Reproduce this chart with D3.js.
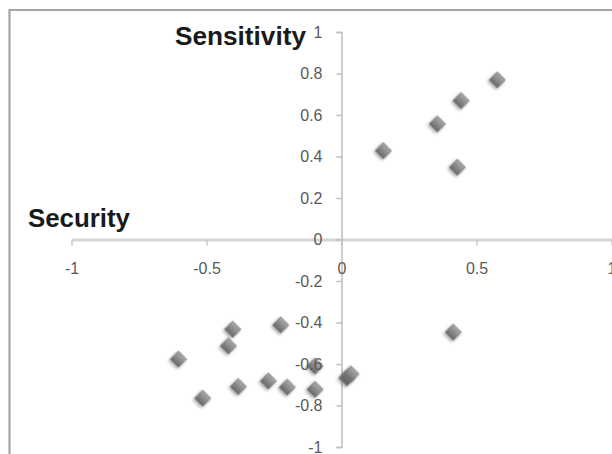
<!DOCTYPE html>
<html>
<head>
<meta charset="utf-8">
<script src="https://cdn.jsdelivr.net/npm/d3@7"></script>
<style>
  html, body { margin: 0; padding: 0; background: #fff; }
  svg { display: block; }
</style>
</head>
<body>
<svg id="chart" width="612" height="454"></svg>
<script>
// ---- data ----
const securityValues    = [0.577, 0.443, 0.355, 0.155, 0.429, 0.414, -0.225, -0.403, -0.419, -0.604, -0.514, -0.382, -0.271, -0.201, -0.098, -0.098, 0.020, 0.035];
const sensitivityValues = [0.769, 0.669, 0.557, 0.428, 0.348, -0.447, -0.412, -0.433, -0.513, -0.577, -0.765, -0.709, -0.682, -0.712, -0.722, -0.610, -0.667, -0.648];
const xTickValues = [-1, -0.5, 0, 0.5, 1];
const yTickValues = [-1, -0.8, -0.6, -0.4, -0.2, 0, 0.2, 0.4, 0.6, 0.8, 1];
const xTitle = "Security";
const yTitle = "Sensitivity";

const svg = d3.select("#chart");
const fmt = v => (v < 0 ? "-" : "") + String(Math.abs(+v.toFixed(2)));
const FONT = "Liberation Sans, Arial, sans-serif";

const x = d3.scaleLinear().domain([-1, 1]).range([71.5, 611.5]);
const y = d3.scaleLinear().domain([-1, 1]).range([447, 32]);

// defs: gradient + shadow for markers
const defs = svg.append("defs");
const grad = defs.append("linearGradient").attr("id", "mk").attr("x1", 0).attr("y1", 0).attr("x2", 0).attr("y2", 1);
grad.append("stop").attr("offset", "0%").attr("stop-color", "#a8a8a8");
grad.append("stop").attr("offset", "50%").attr("stop-color", "#8a8a8a");
grad.append("stop").attr("offset", "100%").attr("stop-color", "#676767");
const f = defs.append("filter").attr("id", "sh").attr("x", "-50%").attr("y", "-50%").attr("width", "200%").attr("height", "200%");
f.append("feDropShadow").attr("dx", 0).attr("dy", 2).attr("stdDeviation", 1.6).attr("flood-color", "#000").attr("flood-opacity", 0.35);

// chart frame
svg.append("path")
  .attr("d", "M9.5,454 L9.5,10 L612,10")
  .attr("fill", "none").attr("stroke", "#a5a5a5").attr("stroke-width", 2.2);

// axis lines (without labels)
const xAxisGen = d3.axisBottom(x).tickValues(xTickValues).tickFormat(fmt).tickSize(6).tickSizeOuter(0).tickPadding(17);
const yAxisGen = d3.axisLeft(y).tickValues(yTickValues).tickFormat(fmt).tickSize(5).tickSizeOuter(5).tickPadding(14);

const xAxis = svg.append("g").attr("transform", `translate(0,${y(0)})`).call(xAxisGen);
xAxis.select(".domain").attr("stroke", "#d6d6d6").attr("stroke-width", 3);
xAxis.selectAll(".tick line").attr("stroke", "#c8c8c8").attr("stroke-width", 1.5);
xAxis.selectAll(".tick text").remove();

const yAxis = svg.append("g").attr("transform", `translate(${x(0)},0)`).call(yAxisGen);
yAxis.select(".domain").attr("stroke", "#bdbdbd").attr("stroke-width", 1.5);
yAxis.selectAll(".tick line").attr("stroke", "#bdbdbd").attr("stroke-width", 1.5);
yAxis.selectAll(".tick text").remove();

// markers
const pts = securityValues.map((v, i) => ({ sx: v, sy: sensitivityValues[i] }));
const sym = d3.symbol().type(d3.symbolSquare).size(135);
svg.append("g").selectAll("path")
  .data(pts)
  .join("path")
  .attr("d", sym)
  .attr("transform", d => `translate(${x(d.sx)},${y(d.sy)}) rotate(45)`)
  .attr("fill", "url(#mk)")
  .attr("stroke", "#7a7a7a")
  .attr("stroke-width", 0.6)
  .attr("filter", "url(#sh)");

// axis labels on top of markers
const xLab = svg.append("g").attr("transform", `translate(0,${y(0)})`).call(xAxisGen);
xLab.select(".domain").remove();
xLab.selectAll(".tick line").remove();
xLab.selectAll(".tick text").attr("font-family", FONT).attr("font-size", 16).attr("fill", "#595959");

const yLab = svg.append("g").attr("transform", `translate(${x(0)},0)`).call(yAxisGen);
yLab.select(".domain").remove();
yLab.selectAll(".tick line").remove();
yLab.selectAll(".tick text").attr("font-family", FONT).attr("font-size", 16).attr("fill", "#595959");

// axis titles
svg.append("text")
  .attr("x", 28).attr("y", 227)
  .attr("font-family", FONT)
  .attr("font-weight", "bold").attr("font-size", 25)
  .attr("fill", "#1a1a1a")
  .attr("textLength", 102).attr("lengthAdjust", "spacingAndGlyphs")
  .text(xTitle);
svg.append("text")
  .attr("x", 175).attr("y", 44.5)
  .attr("font-family", FONT)
  .attr("font-weight", "bold").attr("font-size", 25)
  .attr("fill", "#1a1a1a")
  .attr("textLength", 131).attr("lengthAdjust", "spacingAndGlyphs")
  .text(yTitle);
</script>
</body>
</html>
